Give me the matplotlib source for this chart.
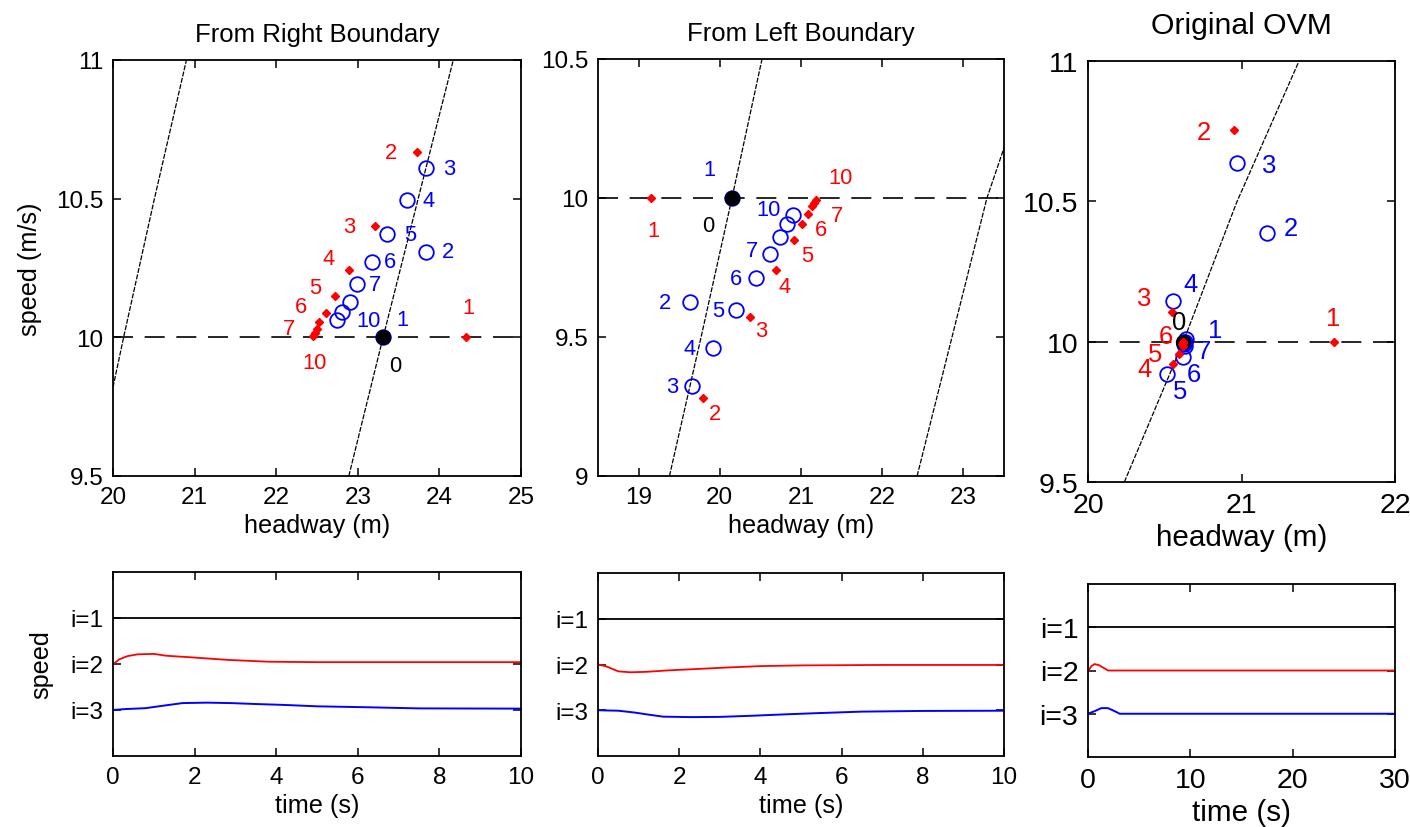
import matplotlib
matplotlib.use('Agg')
import matplotlib.pyplot as plt

plt.rcParams['font.family'] = ['Liberation Sans', 'DejaVu Sans']

# ---- phase plane data: headway (m) / speed (m/s) ----
# From Right Boundary
r_eq = (23.31, 10.0)
r_curve1_h = [20.0, 20.13, 20.5, 20.9]
r_curve1_v = [9.82, 10.0, 10.49, 11.0]
r_curve2_h = [22.89, 23.31, 23.74, 24.17]
r_curve2_v = [9.5, 10.0, 10.5, 11.0]
r_red_h = [24.32, 23.72, 23.21, 22.89, 22.72, 22.61, 22.53, 22.50, 22.47, 22.45]
r_red_v = [10.0, 10.668, 10.401, 10.243, 10.149, 10.089, 10.055, 10.03, 10.015, 10.005]
r_blue_h = [23.31, 23.83, 23.83, 23.60, 23.36, 23.17, 22.99, 22.90, 22.81, 22.75]
r_blue_v = [10.0, 10.309, 10.609, 10.494, 10.371, 10.273, 10.191, 10.129, 10.093, 10.062]

# From Left Boundary
l_eq = (20.148, 10.0)
l_curve1_h = [19.38, 19.77, 20.15, 20.52]
l_curve1_v = [9.0, 9.5, 10.0, 10.5]
l_curve2_h = [22.43, 22.86, 23.29, 23.5]
l_curve2_v = [9.0, 9.5, 10.0, 10.18]
l_red_h = [19.156, 19.799, 20.373, 20.689, 20.915, 21.009, 21.09, 21.13, 21.16, 21.19]
l_red_v = [10.0, 9.281, 9.571, 9.741, 9.849, 9.906, 9.942, 9.970, 9.982, 9.994]
l_blue_h = [20.148, 19.627, 19.656, 19.922, 20.197, 20.443, 20.619, 20.742, 20.825, 20.899]
l_blue_v = [10.0, 9.625, 9.323, 9.460, 9.597, 9.712, 9.799, 9.861, 9.906, 9.939]

# Original OVM
o_eq = (20.62, 10.0)
o_curve_h = [20.237, 20.621, 20.969, 21.375]
o_curve_v = [9.5, 10.0, 10.497, 11.0]
o_red_h = [21.605, 20.953, 20.545, 20.556, 20.595, 20.615, 20.617, 20.62, 20.62, 20.62]
o_red_v = [10.0, 10.754, 10.107, 9.92, 9.956, 9.99, 9.985, 9.995, 10.0, 10.0]
o_blue_h = [20.64, 21.164, 20.969, 20.556, 20.513, 20.617, 20.63, 20.625, 20.63, 20.625]
o_blue_v = [10.01, 10.386, 10.636, 10.146, 9.885, 9.944, 9.985, 9.99, 10.0, 10.0]

# ---- speed vs time data (i=1 at 3, i=2 at 2, i=3 at 1) ----
r_t2 = [0, 0.15, 0.35, 0.6, 1.0, 1.3, 2.0, 2.8, 3.8, 5, 10]
r_s2 = [1.99, 2.1, 2.17, 2.21, 2.22, 2.18, 2.14, 2.09, 2.05, 2.04, 2.04]
r_t3 = [0, 0.3, 0.8, 1.2, 1.7, 2.3, 2.9, 3.5, 4.2, 5.0, 6.2, 7.5, 10]
r_s3 = [1.0, 1.02, 1.04, 1.09, 1.15, 1.16, 1.15, 1.13, 1.11, 1.08, 1.06, 1.035, 1.03]

l_t2 = [0, 0.2, 0.5, 0.8, 1.2, 1.7, 2.4, 3.2, 4.0, 5, 7, 10]
l_s2 = [2.0, 1.96, 1.85, 1.83, 1.84, 1.87, 1.9, 1.935, 1.965, 1.98, 1.99, 1.99]
l_t3 = [0, 0.5, 0.9, 1.2, 1.6, 2.3, 3.0, 3.8, 4.6, 5.5, 6.5, 8, 10]
l_s3 = [1.0, 0.99, 0.95, 0.91, 0.86, 0.85, 0.855, 0.88, 0.91, 0.94, 0.97, 0.985, 0.99]

o_t2 = [0, 0.33, 0.65, 1.1, 1.6, 1.95, 5, 30]
o_s2 = [1.98, 2.1, 2.15, 2.12, 2.05, 2.0, 2.0, 2.0]
o_t3 = [0, 0.65, 1.3, 1.95, 2.6, 3.1, 30]
o_s3 = [1.0, 1.06, 1.13, 1.13, 1.06, 1.0, 1.0]

car_ticks = [1, 2, 3]
car_labels = ['i=3', 'i=2', 'i=1']

# label offsets in pixels (dx, dy) for point numbers
r_red_lab = {1: (3, 30), 2: (-26, 0), 3: (-26, 0), 4: (-20, 11), 5: (-20, 9),
             6: (-25, 6), 7: (-30, -6), 10: (2, -27)}
r_blue_lab = {1: (19, 18), 2: (22, 0), 3: (24, 0), 4: (22, 0), 5: (23, 0),
              6: (18, 0), 7: (18, 0), 10: (31, 0)}
l_red_lab = {1: (2, -33), 2: (12, -16), 3: (11, -13), 4: (9, -16), 5: (13, -16),
             6: (19, -5), 7: (29, -1), 10: (24, 22)}
l_blue_lab = {1: (-22, 28), 2: (-25, 0), 3: (-20, 0), 4: (-24, 0), 5: (-18, 0),
              6: (-20, 0), 7: (-18, 3), 10: (-24, 5)}
o_red_lab = {1: (-1, 24), 2: (-30, -2), 3: (-27, 14), 4: (-29, -5), 5: (-24, 0), 6: (-17, 8)}
o_blue_lab = {1: (29, 9), 2: (24, 5), 3: (32, -2), 4: (17, 17), 5: (13, -17),
              6: (11, -17), 7: (19, -5)}


def style_axes(ax, fs):
    for s in ax.spines.values():
        s.set_linewidth(1.3)
    ax.tick_params(direction='in', top=True, right=True, length=6, width=1.1,
                   labelsize=fs, pad=7)


def phase(ax, curves, eq, red_h, red_v, blue_h, blue_v, red_lab, blue_lab, zero_off,
          xlim, ylim, xt, yt, title, fs, tpad):
    for ch, cv in curves:
        ax.plot(ch, cv, color='k', lw=0.9, ls=(0, (4, 1.2)))
    ax.axhline(eq[1], color='k', lw=1.2, ls=(0, (12, 7)))
    ax.plot(blue_h, blue_v, 'o', ms=10.5, mfc='none', mec='b', mew=1.3, ls='none')
    ax.plot([eq[0]], [eq[1]], 'o', ms=10, color='k')
    ax.plot(red_h, red_v, 'D', ms=4.5, color='r', ls='none')
    lfs = fs * 0.9
    for i, (dx, dy) in red_lab.items():
        ax.annotate(str(i), (red_h[i - 1], red_v[i - 1]), xytext=(dx, dy),
                    textcoords='offset pixels', ha='center', va='center',
                    color='r', fontsize=lfs)
    for i, (dx, dy) in blue_lab.items():
        ax.annotate(str(i), (blue_h[i - 1], blue_v[i - 1]), xytext=(dx, dy),
                    textcoords='offset pixels', ha='center', va='center',
                    color='b', fontsize=lfs)
    ax.annotate('0', eq, xytext=zero_off, textcoords='offset pixels',
                ha='center', va='center', color='k', fontsize=lfs)
    ax.set_xlim(*xlim)
    ax.set_ylim(*ylim)
    ax.set_xticks(xt)
    ax.set_yticks(yt)
    ax.set_xticklabels([f'{v:g}' for v in xt])
    ax.set_yticklabels([f'{v:g}' for v in yt])
    ax.set_xlabel('headway (m)', fontsize=fs * 1.04, labelpad=4)
    ax.set_title(title, fontsize=fs * 1.06, pad=tpad)
    style_axes(ax, fs)


def speeds(ax, t2, s2, t3, s3, tmax, xt, fs):
    ax.plot([0, tmax], [3, 3], color='k', lw=1.3)
    ax.plot(t2, s2, color='r', lw=1.3)
    ax.plot(t3, s3, color='b', lw=1.4)
    ax.set_xlim(0, tmax)
    ax.set_ylim(0, 4)
    ax.set_xticks(xt)
    ax.set_yticks(car_ticks)
    ax.set_yticklabels(car_labels)
    ax.set_xlabel('time (s)', fontsize=fs * 1.04, labelpad=4)
    style_axes(ax, fs)


fig = plt.figure(figsize=(14.1, 8.28), dpi=100)
W, H = 1410, 828


def box(l, r, t, b):
    return [l / W, 1 - b / H, (r - l) / W, (b - t) / H]


fs = 17.5
fs3 = 20.5

ax1 = fig.add_axes(box(113, 521, 61, 477))
phase(ax1, [(r_curve1_h, r_curve1_v), (r_curve2_h, r_curve2_v)], r_eq,
      r_red_h, r_red_v, r_blue_h, r_blue_v, r_red_lab, r_blue_lab, (12, -28),
      (20, 25), (9.5, 11), [20, 21, 22, 23, 24, 25], [9.5, 10, 10.5, 11],
      'From Right Boundary', fs, 14)
ax1.set_ylabel('speed (m/s)', fontsize=fs * 1.04, labelpad=10)

ax2 = fig.add_axes(box(598, 1004, 60, 477))
phase(ax2, [(l_curve1_h, l_curve1_v), (l_curve2_h, l_curve2_v)], l_eq,
      l_red_h, l_red_v, l_blue_h, l_blue_v, l_red_lab, l_blue_lab, (-24, -28),
      (18.5, 23.5), (9, 10.5), [19, 20, 21, 22, 23], [9, 9.5, 10, 10.5],
      'From Left Boundary', fs, 14)

ax3 = fig.add_axes(box(1088, 1395, 62, 483))
phase(ax3, [(o_curve_h, o_curve_v)], o_eq,
      o_red_h, o_red_v, o_blue_h, o_blue_v, o_red_lab, o_blue_lab, (-4, 20),
      (20, 22), (9.5, 11), [20, 21, 22], [9.5, 10, 10.5, 11],
      'Original OVM', fs3, 20)

ax4 = fig.add_axes(box(113, 521, 573, 757))
speeds(ax4, r_t2, r_s2, r_t3, r_s3, 10, [0, 2, 4, 6, 8, 10], fs)
ax4.set_ylabel('speed', fontsize=fs * 1.04, labelpad=12)

ax5 = fig.add_axes(box(598, 1004, 574, 757))
speeds(ax5, l_t2, l_s2, l_t3, l_s3, 10, [0, 2, 4, 6, 8, 10], fs)

ax6 = fig.add_axes(box(1088, 1395, 585, 758))
speeds(ax6, o_t2, o_s2, o_t3, o_s3, 30, [0, 10, 20, 30], fs3)

fig.savefig('out.png', dpi=100)
